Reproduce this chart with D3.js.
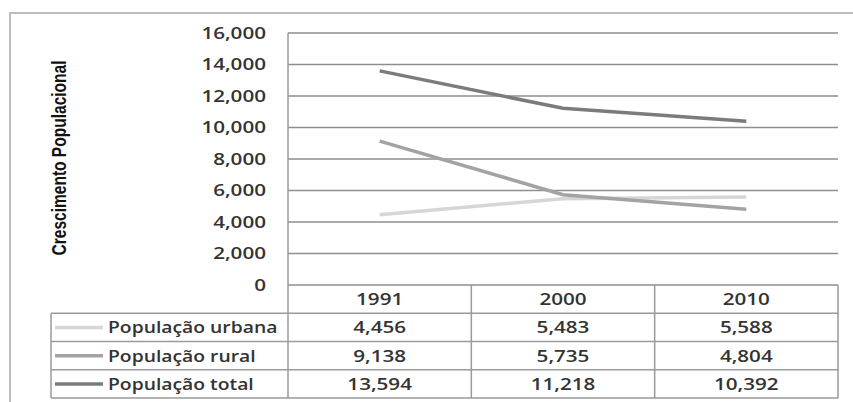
<!DOCTYPE html>
<html>
<head>
<meta charset="utf-8">
<script src="https://cdn.jsdelivr.net/npm/d3@7"></script>
<style>
  body { margin: 0; background: #fff; }
  svg { display: block; }
  text { font-family: "Open Sans", sans-serif; font-weight: 600; fill: #333; font-size: 16.5px; }
</style>
</head>
<body>
<svg></svg>
<script>
const width = 853,
      height = 402

// data
const years = ["1991", "2000", "2010"]
const seriesNames = ["População urbana", "População rural", "População total"]
const urbana = [4456, 5483, 5588]
const rural = [9138, 5735, 4804]
const total = [13594, 11218, 10392]
const yTicks = [0, 2000, 4000, 6000, 8000, 10000, 12000, 14000, 16000]

const series = [
  {name: seriesNames[0], values: urbana, color: "#d6d6d6"},
  {name: seriesNames[1], values: rural, color: "#a3a3a3"},
  {name: seriesNames[2], values: total, color: "#7b7b7b"}
]

const plotLeft = 288, plotRight = 838, plotTop = 33, plotBottom = 285
const tableBottom = 398, legendLeft = 51

const fmt = d3.format(",d")

// the source picture is stretched sideways, so widen glyphs a bit
function stretch(sel, k) {
  sel.each(function() {
    const w = this.getComputedTextLength()
    d3.select(this)
      .attr("textLength", w * k)
      .attr("lengthAdjust", "spacingAndGlyphs")
  })
}

const svg = d3.select("svg")
  .attr("width", width)
  .attr("height", height)

// outer frame (top + left only visible)
svg.append("path")
  .attr("d", `M10,${height} V13 H${width}`)
  .attr("fill", "none")
  .attr("stroke", "#bdbdbd")
  .attr("stroke-width", 2)

const x = d3.scaleBand()
  .domain(years)
  .range([plotLeft, plotRight])

const y = d3.scaleLinear()
  .domain([0, 16000])
  .range([plotBottom, plotTop])

// gridlines
svg.append("g")
  .selectAll("line")
  .data(yTicks)
  .join("line")
    .attr("x1", plotLeft)
    .attr("x2", plotRight)
    .attr("y1", d => y(d))
    .attr("y2", d => y(d))
    .attr("stroke", "#8e8e8e")
    .attr("stroke-width", 1.5)

// y tick labels
svg.append("g")
  .selectAll("text")
  .data(yTicks)
  .join("text")
    .attr("x", 266)
    .attr("y", d => y(d))
    .attr("dy", "0.36em")
    .attr("text-anchor", "end")
    .text(d => fmt(d))
    .call(stretch, 1.25)

// y axis title
svg.append("text")
  .attr("transform", "translate(66,158) rotate(-90)")
  .attr("text-anchor", "middle")
  .style("font-family", "'Liberation Sans Narrow', 'Liberation Sans', sans-serif")
  .style("font-weight", "bold")
  .style("font-size", "20px")
  .style("fill", "#111")
  .attr("textLength", 195)
  .attr("lengthAdjust", "spacingAndGlyphs")
  .text("Crescimento Populacional")

// lines
const line = d3.line()
  .x((d, i) => x(years[i]) + x.bandwidth() / 2)
  .y(d => y(d))

svg.append("g")
  .selectAll("path")
  .data(series)
  .join("path")
    .attr("d", d => line(d.values))
    .attr("fill", "none")
    .attr("stroke", d => d.color)
    .attr("stroke-width", 3.5)

// data table
const rowY = d3.scaleBand()
  .domain(["head"].concat(seriesNames))
  .range([plotBottom, tableBottom])

const table = svg.append("g")
  .attr("stroke", "#9a9a9a")
  .attr("stroke-width", 1.5)

// vertical axis line + table left edge
table.append("line")
  .attr("x1", plotLeft).attr("x2", plotLeft)
  .attr("y1", plotTop).attr("y2", tableBottom)

// column dividers and right edge
table.selectAll("line.col")
  .data(years.slice(1).map(d => x(d)).concat([plotRight]))
  .join("line")
    .attr("class", "col")
    .attr("x1", d => d).attr("x2", d => d)
    .attr("y1", plotBottom).attr("y2", tableBottom)

// horizontal rules
table.selectAll("line.row")
  .data(seriesNames.map(d => rowY(d)).concat([tableBottom]))
  .join("line")
    .attr("class", "row")
    .attr("x1", legendLeft).attr("x2", plotRight)
    .attr("y1", d => d).attr("y2", d => d)

table.append("line")
  .attr("x1", legendLeft).attr("x2", legendLeft)
  .attr("y1", rowY(seriesNames[0])).attr("y2", tableBottom)

// header
svg.append("g")
  .selectAll("text")
  .data(years)
  .join("text")
    .attr("x", d => x(d) + x.bandwidth() / 2)
    .attr("y", rowY("head") + rowY.bandwidth() / 2)
    .attr("dy", "0.36em")
    .attr("text-anchor", "middle")
    .text(d => d)
    .call(stretch, 1.25)

// rows
const rows = svg.append("g")
  .selectAll("g")
  .data(series)
  .join("g")
    .attr("transform", d => `translate(0,${rowY(d.name) + rowY.bandwidth() / 2})`)

rows.append("line")
  .attr("x1", 55).attr("x2", 103)
  .attr("stroke", d => d.color)
  .attr("stroke-width", 3.5)

rows.append("text")
  .attr("x", 108)
  .attr("dy", "0.36em")
  .text(d => d.name)
  .call(stretch, 1.17)

rows.selectAll("text.val")
  .data(d => d.values)
  .join("text")
    .attr("class", "val")
    .attr("x", (d, i) => x(years[i]) + x.bandwidth() / 2)
    .attr("dy", "0.36em")
    .attr("text-anchor", "middle")
    .text(d => fmt(d))
    .call(stretch, 1.25)
</script>
</body>
</html>
